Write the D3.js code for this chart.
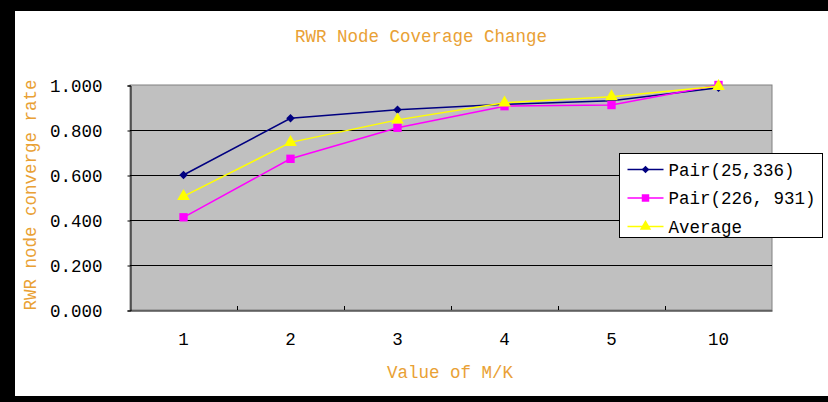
<!DOCTYPE html>
<html>
<head>
<meta charset="utf-8">
<script src="https://cdn.jsdelivr.net/npm/d3@7"></script>
<style>
  body { margin: 0; background: #fff; }
  text { font-family: "Liberation Mono", "DejaVu Sans Mono", monospace; }
</style>
</head>
<body>
<div id="chart"></div>
<script>
// values
var categories = ["1", "2", "3", "4", "5", "10"];
var pairA = [0.600, 0.852, 0.890, 0.914, 0.930, 0.988];   // Pair(25,336)
var pairB = [0.412, 0.672, 0.810, 0.906, 0.911, 1.000];   // Pair(226, 931)
var average = [0.505, 0.745, 0.845, 0.921, 0.948, 0.994];
var yTicks = [0, 0.2, 0.4, 0.6, 0.8, 1.0];
var seriesNames = ["Pair(25,336)", "Pair(226, 931)", "Average"];

var w = 828, h = 402;
var plotLeft = 130, plotRight = 772, plotTop = 85, plotBottom = 310;
var orange = "#E9A135";

var svg = d3.select("#chart").append("svg")
  .attr("width", w)
  .attr("height", h);

// black frame
svg.append("rect").attr("x", 0).attr("y", 0).attr("width", w).attr("height", h).attr("fill", "#000");
svg.append("rect").attr("x", 15).attr("y", 11).attr("width", w - 15).attr("height", 385).attr("fill", "#fff");

var x = d3.scaleBand()
  .domain(categories)
  .range([plotLeft, plotRight]);

var y = d3.scaleLinear()
  .domain([0, 1])
  .range([plotBottom, plotTop]);

// plot area
svg.append("rect")
  .attr("x", plotLeft).attr("y", plotTop)
  .attr("width", plotRight - plotLeft).attr("height", plotBottom - plotTop)
  .attr("fill", "#C0C0C0")
  .attr("stroke", "#808080")
  .attr("stroke-width", 1);

// gridlines
svg.selectAll("line.grid")
  .data(yTicks.slice(1, -1))
  .enter()
  .append("line")
  .attr("class", "grid")
  .attr("x1", plotLeft).attr("x2", plotRight)
  .attr("y1", function(d) { return Math.round(y(d)) + 0.5; })
  .attr("y2", function(d) { return Math.round(y(d)) + 0.5; })
  .attr("stroke", "#000")
  .attr("stroke-width", 1);

// y axis
var yAxis = d3.axisLeft(y)
  .tickValues(yTicks)
  .tickSize(3)
  .tickPadding(25)
  .tickFormat(d3.format(".3f"));

var gy = svg.append("g")
  .attr("transform", "translate(" + (plotLeft + 0.5) + ",0.5)")
  .call(yAxis);
gy.select(".domain").attr("stroke", "#000");
gy.selectAll("text")
  .style("font-size", "17.5px")
  .attr("fill", "#000");

// x axis: ticks at category boundaries pointing inward
var xAxis = d3.axisBottom(x).tickSize(0).tickPadding(22);
var gx = svg.append("g")
  .attr("transform", "translate(0," + (plotBottom + 0.5) + ")")
  .call(xAxis);
gx.select(".domain").attr("stroke", "#000");
gx.selectAll("text")
  .style("font-size", "17.5px")
  .attr("fill", "#000");

svg.selectAll("line.xtick")
  .data(categories.slice(1))
  .enter()
  .append("line")
  .attr("class", "xtick")
  .attr("x1", function(d) { return Math.round(x(d)) + 0.5; })
  .attr("x2", function(d) { return Math.round(x(d)) + 0.5; })
  .attr("y1", plotBottom - 4)
  .attr("y2", plotBottom)
  .attr("stroke", "#000");

// series (diamond = square turned 45deg)
var series = [
  { name: seriesNames[0], values: pairA, color: "#000080", shape: d3.symbolSquare, size: 36, rot: 45 },
  { name: seriesNames[1], values: pairB, color: "#FF00FF", shape: d3.symbolSquare, size: 70, rot: 0 },
  { name: seriesNames[2], values: average, color: "#FFFF00", shape: d3.symbolTriangle, size: 70, rot: 0 }
];

var line = d3.line()
  .x(function(d, i) { return x(categories[i]) + x.bandwidth() / 2; })
  .y(function(d) { return y(d); });

series.forEach(function(s) {
  svg.append("path")
    .datum(s.values)
    .attr("d", line)
    .attr("fill", "none")
    .attr("stroke", s.color)
    .attr("stroke-width", 1.5);

  svg.selectAll(null)
    .data(s.values)
    .enter()
    .append("path")
    .attr("d", d3.symbol().type(s.shape).size(s.size))
    .attr("transform", function(d, i) {
      return "translate(" + (x(categories[i]) + x.bandwidth() / 2) + "," + y(d) + ") rotate(" + s.rot + ")";
    })
    .attr("fill", s.color);
});

// legend
var lg = svg.append("g").attr("transform", "translate(619.5,153.5)");
lg.append("rect")
  .attr("width", 203).attr("height", 84)
  .attr("fill", "#fff")
  .attr("stroke", "#000");

series.forEach(function(s, i) {
  var cy = 16 + i * 28.5;
  lg.append("line")
    .attr("x1", 8).attr("x2", 44)
    .attr("y1", cy).attr("y2", cy)
    .attr("stroke", s.color).attr("stroke-width", 1.5);
  lg.append("path")
    .attr("d", d3.symbol().type(s.shape).size(s.size * 0.8))
    .attr("transform", "translate(26," + cy + ") rotate(" + s.rot + ")")
    .attr("fill", s.color);
  lg.append("text")
    .attr("x", 49).attr("y", cy)
    .attr("dy", "0.35em")
    .style("font-size", "17.5px")
    .attr("fill", "#000")
    .text(s.name);
});

// titles
svg.append("text")
  .attr("x", 421).attr("y", 36)
  .attr("text-anchor", "middle")
  .attr("dy", "0.35em")
  .style("font-size", "17.5px")
  .attr("fill", orange)
  .text("RWR Node Coverage Change");

svg.append("text")
  .attr("x", 450).attr("y", 372)
  .attr("text-anchor", "middle")
  .attr("dy", "0.35em")
  .style("font-size", "17.5px")
  .attr("fill", orange)
  .text("Value of M/K");

svg.append("text")
  .attr("transform", "translate(30,195) rotate(-90)")
  .attr("text-anchor", "middle")
  .attr("dy", "0.35em")
  .style("font-size", "17.5px")
  .attr("fill", orange)
  .text("RWR node converge rate");
</script>
</body>
</html>
